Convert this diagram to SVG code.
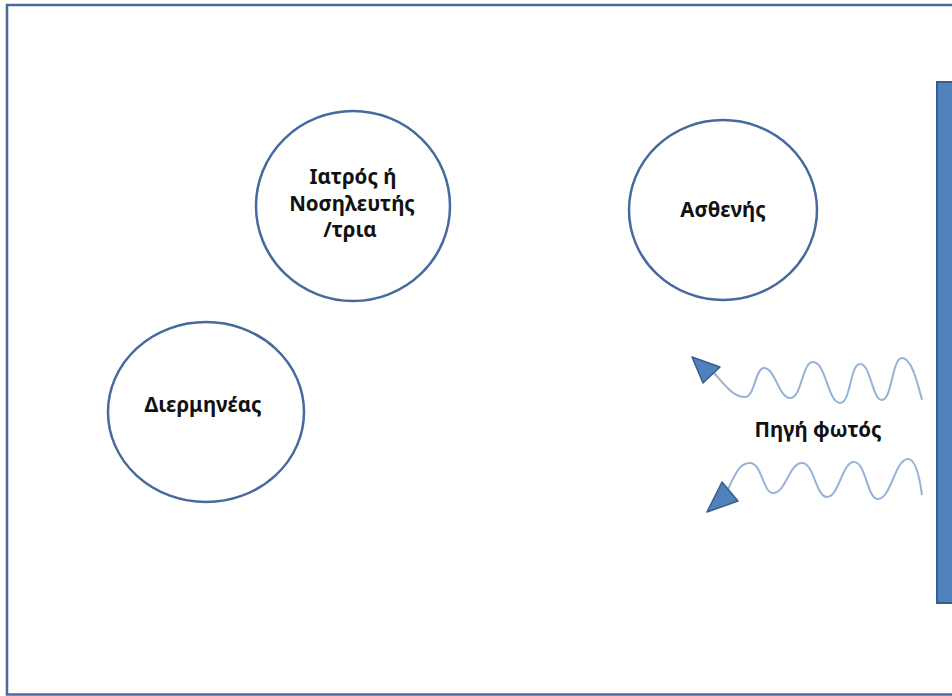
<svg xmlns="http://www.w3.org/2000/svg" width="952" height="696" viewBox="0 0 952 696">
<style>
.node{fill:#fff;stroke:#46699E;stroke-width:2.5}
.lbl{font-family:"Noto Sans","Open Sans","DejaVu Sans",sans-serif;font-weight:bold;font-size:20.5px;fill:#111;text-anchor:middle}
.wave{fill:none;stroke:#95B3D7;stroke-width:2}
.head{fill:#4F81BD;stroke:#385D8A;stroke-width:1.5;stroke-linejoin:round}
</style>
<rect x="0" y="0" width="952" height="696" fill="#fff"/>
<rect id="frame" x="7" y="5" width="960" height="689.5" fill="none" stroke="#4A6A9A" stroke-width="2.5"/>
<g id="light-source">
<rect x="937" y="82" width="30" height="521" fill="#4F81BD" stroke="#385D8A" stroke-width="2"/>
</g>
<g id="doctor">
<ellipse class="node" cx="353" cy="206" rx="97" ry="95"/>
<text class="lbl" x="353" y="184">Ιατρός ή</text>
<text class="lbl" x="352" y="211">Νοσηλευτής</text>
<text class="lbl" x="350" y="237">/τρια</text>
</g>
<g id="patient">
<ellipse class="node" cx="723" cy="210" rx="94" ry="90"/>
<text class="lbl" x="723" y="217">Ασθενής</text>
</g>
<g id="interpreter">
<ellipse class="node" cx="206" cy="412" rx="98" ry="90"/>
<text class="lbl" x="203" y="412">Διερμηνέας</text>
</g>
<g id="light-label">
<text class="lbl" x="818" y="437">Πηγή φωτός</text>
</g>
<g id="connectors">
<path class="wave" d="M714,373 C725,385 733,397 745,397 C755,397 755,368 764,368 C775,368 779,398 790,398 C802,398 802,362 813,362 C826,362 828,403 840,403 C851,403 850,364 860,364 C871,364 872,400 882,400 C892,400 892,358 902,358 C912,358 918,385 922,400"/>
<polygon class="head" points="692,357 720,367 703,383"/>
<path class="wave" d="M728,489 C735,475 739,463 750,463 C762,463 763,493 773,493 C786,493 789,463 802,463 C814,463 816,497 827,497 C839,497 842,462 854,462 C866,462 867,499 878,499 C891,499 895,459 908,459 C916,459 920,480 922,495"/>
<polygon class="head" points="707,512 722,482 738,501"/>
</g>
</svg>
